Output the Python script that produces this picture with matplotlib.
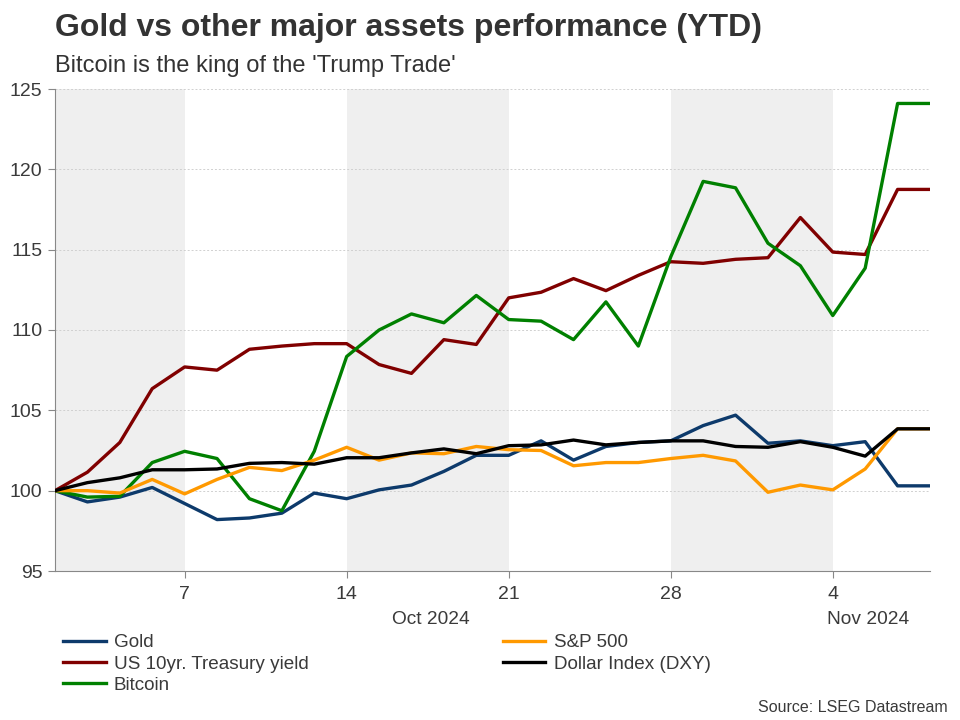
import numpy as np
import matplotlib.pyplot as plt

plt.rcParams['font.family'] = ['Liberation Sans', 'DejaVu Sans']

# business days from 1 Oct 2024 to 7 Nov 2024
dates = ['Oct 1', 'Oct 2', 'Oct 3', 'Oct 4',
         'Oct 7', 'Oct 8', 'Oct 9', 'Oct 10', 'Oct 11',
         'Oct 14', 'Oct 15', 'Oct 16', 'Oct 17', 'Oct 18',
         'Oct 21', 'Oct 22', 'Oct 23', 'Oct 24', 'Oct 25',
         'Oct 28', 'Oct 29', 'Oct 30', 'Oct 31', 'Nov 1',
         'Nov 4', 'Nov 5', 'Nov 6', 'Nov 7']

gold = [100, 99.3, 99.6, 100.2, 99.2, 98.2, 98.3, 98.6, 99.85,
        99.5, 100.05, 100.35, 101.2, 102.2, 102.2, 103.1, 101.9, 102.75, 103.0,
        103.1, 104.05, 104.7, 102.95, 103.1, 102.8, 103.05, 100.3, 100.3]
sp500 = [100, 100, 99.85, 100.7, 99.8, 100.7, 101.45, 101.25, 101.9,
         102.7, 101.9, 102.35, 102.3, 102.75, 102.55, 102.5, 101.55, 101.75, 101.75,
         102.0, 102.2, 101.85, 99.9, 100.35, 100.05, 101.35, 103.85, 103.85]
us10y = [100, 101.15, 103.0, 106.35, 107.7, 107.5, 108.8, 109.0, 109.15,
         109.15, 107.85, 107.3, 109.4, 109.1, 112.0, 112.35, 113.2, 112.45, 113.4,
         114.25, 114.15, 114.4, 114.5, 117.0, 114.85, 114.7, 118.75, 118.75]
dxy = [100, 100.5, 100.8, 101.3, 101.3, 101.35, 101.7, 101.75, 101.65,
       102.05, 102.05, 102.35, 102.6, 102.3, 102.8, 102.85, 103.15, 102.85, 103.0,
       103.1, 103.1, 102.75, 102.7, 103.05, 102.7, 102.15, 103.85, 103.85]
bitcoin = [100, 99.6, 99.65, 101.75, 102.45, 102.0, 99.5, 98.75, 102.45,
           108.35, 110.0, 111.0, 110.45, 112.15, 110.65, 110.55, 109.4, 111.75, 109.0,
           114.55, 119.25, 118.85, 115.4, 114.0, 110.9, 113.85, 124.1, 124.1]

tick_days = ['7', '14', '21', '28', '4']
tick_idx = [dates.index(d) for d in ['Oct 7', 'Oct 14', 'Oct 21', 'Oct 28', 'Nov 4']]


def main():
    fig = plt.figure(figsize=(9.6, 7.2), dpi=100)
    ax = fig.add_axes([55 / 960, 1 - 571 / 720, 875 / 960, 482 / 720])
    x = np.arange(len(dates))

    # alternate week shading
    for a, b in [(0, 4), (9, 14), (19, 24)]:
        ax.axvspan(a, b, color='#efefef', lw=0, zorder=0)

    ax.plot(x, gold, color='#0d3a6b', lw=2.4, label='Gold', zorder=3)
    ax.plot(x, us10y, color='#800000', lw=2.4, label='US 10yr. Treasury yield', zorder=3)
    ax.plot(x, bitcoin, color='#008000', lw=2.4, label='Bitcoin', zorder=3)
    ax.plot(x, sp500, color='#ff9900', lw=2.4, label='S&P 500', zorder=3)
    ax.plot(x, dxy, color='black', lw=2.4, label='Dollar Index (DXY)', zorder=3)

    ax.set_xlim(0, len(dates) - 1)
    ax.set_ylim(95, 125)
    ax.set_yticks(range(95, 126, 5))
    ax.set_xticks(tick_idx)
    ax.set_xticklabels(tick_days)
    ax.grid(axis='y', color='#d0d0d0', ls=(0, (2, 2)), lw=0.7, zorder=1)
    for s in ['top', 'right']:
        ax.spines[s].set_visible(False)
    for s in ['left', 'bottom']:
        ax.spines[s].set_color('#888888')
    ax.tick_params(axis='both', colors='#888888', labelcolor='#3a3a3a', labelsize=14, length=5)
    ax.tick_params(axis='x', pad=6)
    ax.tick_params(axis='y', pad=4)

    ax.text(11.6, -0.1, 'Oct 2024', transform=ax.get_xaxis_transform(),
            ha='center', va='center', fontsize=13.8, color='#3a3a3a')
    ax.text(25.1, -0.1, 'Nov 2024', transform=ax.get_xaxis_transform(),
            ha='center', va='center', fontsize=13.8, color='#3a3a3a')

    fig.text(55 / 960, 1 - 28 / 720, 'Gold vs other major assets performance (YTD)',
             fontsize=23, fontweight='bold', color='#333333', va='center')
    fig.text(55 / 960, 1 - 66 / 720, "Bitcoin is the king of the 'Trump Trade'",
             fontsize=17, color='#333333', va='center')
    fig.text(948 / 960, 1 - 708 / 720, 'Source: LSEG Datastream',
             fontsize=11.5, color='#3a3a3a', ha='right', va='center')

    fig.legend(loc='upper left', bbox_to_anchor=(63 / 960, 1 - 634 / 720), ncol=2,
               frameon=False, fontsize=13.6, handlelength=2.25, handletextpad=0.43,
               labelspacing=0.22, columnspacing=10.3, borderaxespad=0, borderpad=0,
               labelcolor='#3a3a3a')

    fig.savefig('out.png', dpi=100)


if __name__ == '__main__':
    main()
